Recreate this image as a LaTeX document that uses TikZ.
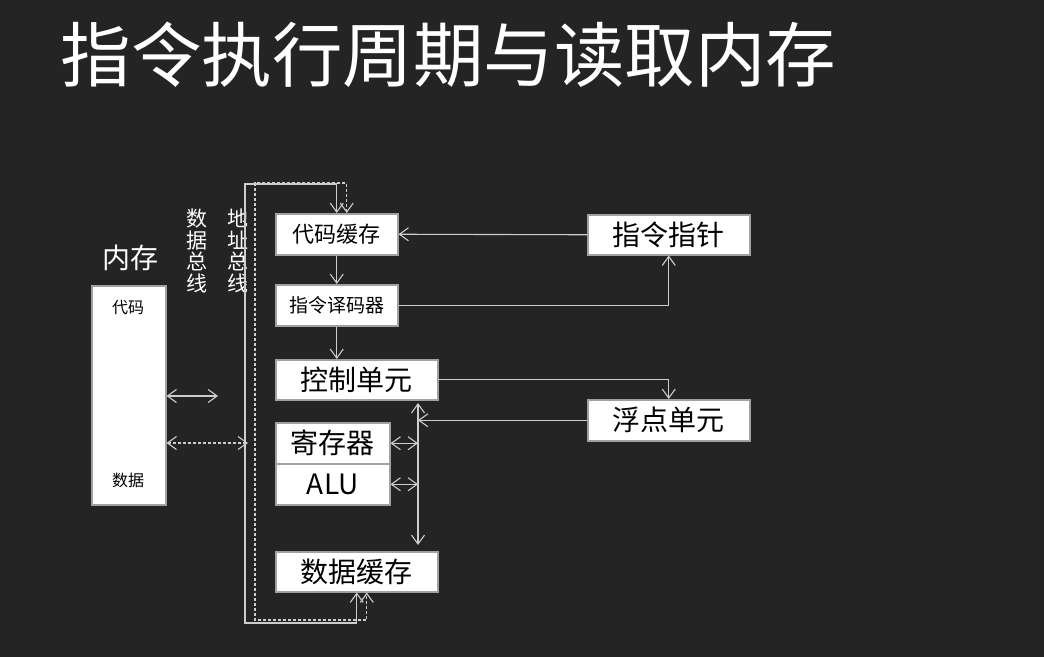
\documentclass[tikz,border=0pt]{standalone}
\usepackage{fontspec}
\newfontfamily\cjk{Noto Sans CJK SC}
\usetikzlibrary{arrows.meta}
\definecolor{board}{RGB}{36,36,36}
\definecolor{chalk}{RGB}{205,205,205}
\definecolor{frame}{RGB}{160,160,160}

\begin{document}
\begin{tikzpicture}[x=1bp,y=-1bp,>={Straight Barb[length=9bp,width=13bp]}]
    \tikzstyle{box}=[draw=frame,fill=white,line width=1.5bp,inner sep=0pt,anchor=north west,font=\cjk]
    \tikzstyle{wire}=[draw=chalk,line width=1.1bp]
    \tikzstyle{dashline}=[dash pattern=on 3bp off 2bp]
    \tikzstyle{buslabel}=[text=white,align=center,inner sep=0pt,font=\cjk\fontsize{21bp}{21.7bp}\selectfont]
    \fill[board] (0,0) rectangle (1044,657);
    \useasboundingbox (0,0) rectangle (1044,657);

    \node[anchor=west,text=white,font=\cjk\fontsize{70.5bp}{80bp}\selectfont] (title) at (57,55) {指令执行周期与读取内存};

    % middle column
    \foreach \name/\y/\w/\h/\size/\txt in {code/213/122/41/22/代码缓存, dec/284/122/41/19/指令译码器,
            ctrl/359/162/40/28/控制单元, reg/422/114/41/28/寄存器, alu/463/114/41/28/ALU, dcache/551/162/40/28/数据缓存}
        \node[box,minimum width=\w bp,minimum height=\h bp,font=\cjk\fontsize{\size bp}{\size bp}\selectfont] (\name) at (275,\y) {\txt};

    % right column
    \foreach \name/\y/\h/\txt in {ip/214/40/指令指针, fpu/399/41/浮点单元}
        \node[box,minimum width=162bp,minimum height=\h bp,font=\cjk\fontsize{28bp}{28bp}\selectfont] (\name) at (587,\y) {\txt};

    % memory
    \node[box,minimum width=74bp,minimum height=219bp] (mem) at (91,285) {};
    \node[font=\cjk\fontsize{16bp}{16bp}\selectfont] (mem-code) at (128,308) {代码};
    \node[font=\cjk\fontsize{16bp}{16bp}\selectfont] (mem-data) at (128,480) {数据};
    \node[text=white,font=\cjk\fontsize{28bp}{28bp}\selectfont] (mem-title) at (130,258) {内存};
    \node[buslabel] (dbus-label) at (197,251) {数\\据\\总\\线};
    \node[buslabel] (abus-label) at (238,251) {地\\址\\总\\线};

    \coordinate (abus-top) at (245,184);
    \coordinate (abus-bot) at (245,623);
    \coordinate (dbus-top) at (255,183);
    \coordinate (dbus-bot) at (255,620);
    \coordinate (mem-a) at (218,396);
    \coordinate (mem-d) at (248,443);
    \coordinate (ex-top) at (418,403);
    \coordinate (ex-bot) at (418,545);

    % buses
    \draw[wire,<->] (code.north) |- (abus-top) -- (abus-bot) -| (dcache.south);
    \draw[wire,dashline,<->] ([xshift=10bp]code.north) |- (dbus-top) -- (dbus-bot) -| ([xshift=10bp]dcache.south);
    \draw[wire,<->] (mem.east |- mem-a) -- (mem-a);
    \draw[wire,dashline,<->] (mem.east |- mem-d) -- (mem-d);

    \draw[wire,->] (ip.west) -- (code.east);
    \draw[wire,->] (code.south) -- (dec.north);
    \draw[wire,->] (dec.south) -- (dec.south |- ctrl.north);
    \draw[wire,->] (dec.east) -| (ip.south);
    \draw[wire,->] (ctrl.east) -| (fpu.north);
    \draw[wire,<->] (ex-top) -- (ex-bot);
    \draw[wire,->] (fpu.west) -- (fpu.west -| ex-top);
    \draw[wire,<->] (reg.east) -- (reg.east -| ex-top);
    \draw[wire,<->] (alu.east) -- (alu.east -| ex-top);
\end{tikzpicture}
\end{document}
